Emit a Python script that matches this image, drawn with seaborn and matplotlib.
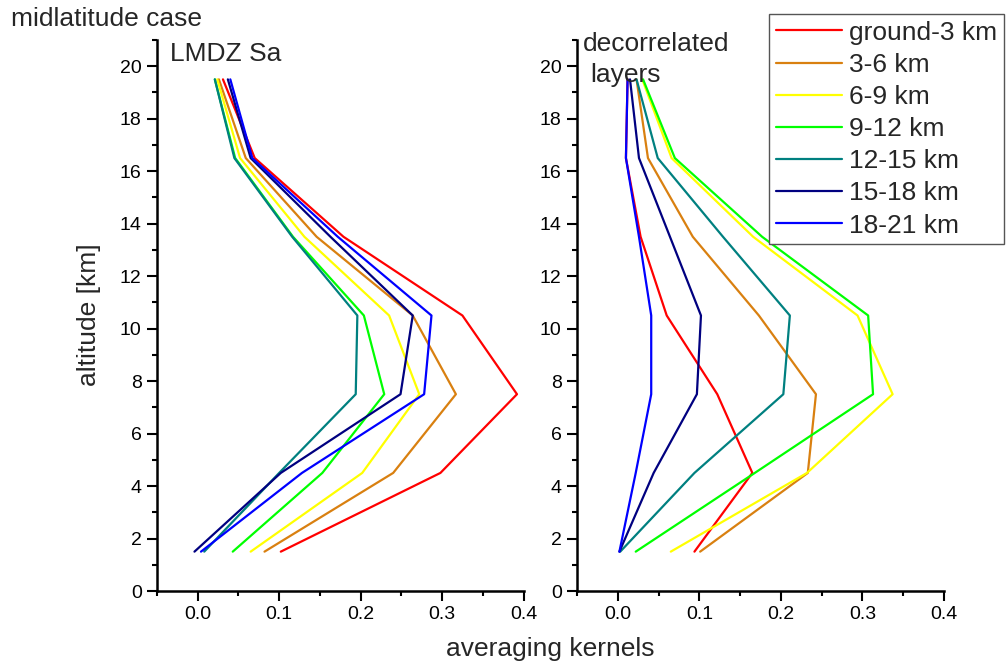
import numpy as np
import pandas as pd
import matplotlib
matplotlib.use("Agg")
import matplotlib.pyplot as plt
import seaborn as sns
from matplotlib.ticker import MultipleLocator

altitudes = [1.5, 4.5, 7.5, 10.5, 13.5, 16.5, 19.5]
layers = ["ground-3 km", "3-6 km", "6-9 km", "9-12 km", "12-15 km", "15-18 km", "18-21 km"]
colors = ["#FF0000", "#D98010", "#FFFF00", "#00FF00", "#008080", "#000080", "#0000FF"]

# LMDZ Sa averaging kernels (left panel)
lmdz_ground_3 = [0.102, 0.298, 0.392, 0.325, 0.179, 0.070, 0.031]
lmdz_3_6 = [0.082, 0.240, 0.317, 0.264, 0.146, 0.059, 0.026]
lmdz_6_9 = [0.065, 0.202, 0.272, 0.235, 0.131, 0.052, 0.024]
lmdz_9_12 = [0.043, 0.153, 0.229, 0.204, 0.117, 0.046, 0.021]
lmdz_12_15 = [0.008, 0.100, 0.194, 0.196, 0.116, 0.045, 0.021]
lmdz_15_18 = [-0.004, 0.102, 0.249, 0.264, 0.163, 0.065, 0.037]
lmdz_18_21 = [0.004, 0.128, 0.278, 0.287, 0.172, 0.067, 0.040]

# decorrelated layers averaging kernels (right panel)
dec_ground_3 = [0.094, 0.165, 0.122, 0.060, 0.028, 0.010, 0.012]
dec_3_6 = [0.101, 0.233, 0.243, 0.173, 0.092, 0.037, 0.023]
dec_6_9 = [0.065, 0.232, 0.337, 0.294, 0.166, 0.066, 0.030]
dec_9_12 = [0.022, 0.168, 0.313, 0.307, 0.177, 0.070, 0.031]
dec_12_15 = [0.003, 0.094, 0.203, 0.211, 0.129, 0.049, 0.023]
dec_15_18 = [0.002, 0.044, 0.097, 0.102, 0.064, 0.026, 0.015]
dec_18_21 = [0.002, 0.022, 0.041, 0.041, 0.026, 0.010, 0.012]

left_series = [lmdz_ground_3, lmdz_3_6, lmdz_6_9, lmdz_9_12, lmdz_12_15, lmdz_15_18, lmdz_18_21]
right_series = [dec_ground_3, dec_3_6, dec_6_9, dec_9_12, dec_12_15, dec_15_18, dec_18_21]


def to_df(series):
    rows = []
    for name, vals in zip(layers, series):
        for a, v in zip(altitudes, vals):
            rows.append({"layer": name, "alt": a, "ak": v})
    return pd.DataFrame(rows)


sns.set_theme(style="ticks")
plt.rcParams["font.family"] = ["Liberation Sans", "DejaVu Sans"]

fig = plt.figure(figsize=(10.06, 6.65), dpi=100)
W, H = 1006, 665
ax1 = fig.add_axes([157 / W, 1 - 591 / H, (523.5 - 157) / W, (591 - 40) / H])
ax2 = fig.add_axes([577 / W, 1 - 591 / H, (944 - 577) / W, (591 - 40) / H])

palette = dict(zip(layers, colors))
for ax, series in ((ax1, left_series), (ax2, right_series)):
    df = to_df(series)
    sns.lineplot(data=df, x="ak", y="alt", hue="layer", hue_order=layers,
                 palette=palette, sort=False, estimator=None, orient="y",
                 lw=1.6, ax=ax, legend=(ax is ax2))
    ax.set_xlim(-0.05, 0.4)
    ax.set_ylim(0, 21)
    ax.xaxis.set_major_locator(MultipleLocator(0.1))
    ax.xaxis.set_minor_locator(MultipleLocator(0.05))
    ax.yaxis.set_major_locator(MultipleLocator(2))
    ax.yaxis.set_minor_locator(MultipleLocator(1))
    ax.xaxis.set_major_formatter(matplotlib.ticker.FormatStrFormatter("%.1f"))
    ax.tick_params(which="major", length=7.5, width=1.5, labelsize=14, color="black",
                   labelcolor="black", direction="out")
    ax.tick_params(which="minor", length=3.5, width=1.5, color="black", direction="out")
    for s in ("top", "right"):
        ax.spines[s].set_visible(False)
    for s in ("left", "bottom"):
        ax.spines[s].set_linewidth(1.8)
        ax.spines[s].set_color("black")
    ax.set_xlabel("")
    ax.set_ylabel("")
    ax.set_facecolor("white")

fig.text(89 / W, 1 - 315 / H, "altitude [km]", fontsize=19, ha="center", va="center",
         rotation=90)
fig.text(550 / W, 1 - 649 / H, "averaging kernels", fontsize=19, ha="center", va="center")
fig.text(11 / W, 1 - 19 / H, "midlatitude case", fontsize=19, ha="left", va="center")
fig.text(170 / W, 1 - 54 / H, "LMDZ Sa", fontsize=19, ha="left", va="center")
fig.text(583 / W, 1 - 44 / H, "decorrelated", fontsize=19, ha="left", va="center")
fig.text(590 / W, 1 - 75 / H, "layers", fontsize=19, ha="left", va="center")

leg = ax2.get_legend()
if leg is not None:
    leg.remove()
handles, labels = ax2.get_legend_handles_labels()
lg = fig.legend(handles, labels, loc="upper left", bbox_to_anchor=(769 / W, 1 - 14 / H),
                fontsize=19, frameon=True, fancybox=False, framealpha=1,
                edgecolor="#555555", handlelength=2.5, handletextpad=0.28,
                labelspacing=0.31, borderpad=0.25, borderaxespad=0)
lg.get_frame().set_linewidth(1.0)

fig.savefig("out.png", dpi=100, facecolor="white")
